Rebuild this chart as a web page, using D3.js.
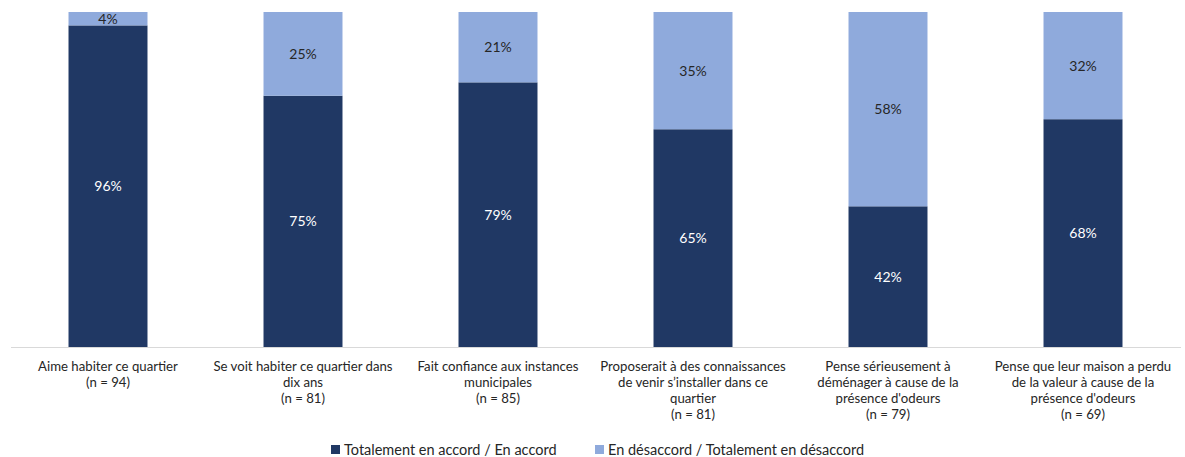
<!DOCTYPE html>
<html>
<head>
<meta charset="utf-8">
<script src="https://cdn.jsdelivr.net/npm/d3@7"></script>
<style>
  html, body { margin: 0; padding: 0; background: #fff; }
  svg { display: block; font-family: Lato, "Open Sans", sans-serif; }
</style>
</head>
<body>
<svg id="chart" width="1185" height="457"></svg>
<script>
// Category labels (line breaks as drawn under each bar)
const categories = [
  "Aime habiter ce quartier\n(n = 94)",
  "Se voit habiter ce quartier dans\ndix ans\n(n = 81)",
  "Fait confiance aux instances\nmunicipales\n(n = 85)",
  "Proposerait à des connaissances\nde venir s’installer dans ce\nquartier\n(n = 81)",
  "Pense sérieusement à\ndéménager à cause de la\nprésence d'odeurs\n(n = 79)",
  "Pense que leur maison a perdu\nde la valeur à cause de la\nprésence d'odeurs\n(n = 69)"
];
const agree = [96, 75, 79, 65, 42, 68];
const disagree = [4, 25, 21, 35, 58, 32];
const seriesNames = ["Totalement en accord / En accord", "En désaccord / Totalement en désaccord"];
const colors = ["#203864", "#8FAADC"];

const svg = d3.select("#chart");
const plot = { left: 10.5, right: 1180.5, top: 12, bottom: 347 };

const x = d3.scaleBand().domain(categories).range([plot.left, plot.right]).paddingInner(0.595).paddingOuter(0.2975);
const y = d3.scaleLinear().domain([0, 100]).range([plot.bottom, plot.top]);

const rows = categories.map((c, i) => ({ cat: c, agree: agree[i], disagree: disagree[i] }));
const stack = d3.stack().keys(["agree", "disagree"])(rows);

const g = svg.append("g");
stack.forEach((layer, li) => {
  g.append("g").selectAll("rect").data(layer).join("rect")
    .attr("x", d => x(d.data.cat))
    .attr("width", x.bandwidth())
    .attr("y", d => y(d[1]))
    .attr("height", d => y(d[0]) - y(d[1]))
    .attr("fill", colors[li]);
  g.append("g").selectAll("text").data(layer).join("text")
    .attr("x", d => x(d.data.cat) + x.bandwidth() / 2)
    .attr("y", d => (y(d[0]) + y(d[1])) / 2)
    .attr("dy", "0.35em")
    .attr("text-anchor", "middle")
    .attr("font-size", 14)
    .attr("fill", li === 0 ? "#ffffff" : "#262626")
    .text(d => (d[1] - d[0]) + "%");
});

// Baseline axis
const axis = svg.append("g").attr("transform", `translate(0,${plot.bottom})`)
  .call(d3.axisBottom(x).tickSize(0).tickFormat(""));
axis.select(".domain").attr("stroke", "#d9d9d9").attr("stroke-width", 1);

// Category labels
const lab = svg.append("g");
categories.forEach(c => {
  const t = lab.append("text")
    .attr("x", x(c) + x.bandwidth() / 2)
    .attr("y", 371)
    .attr("text-anchor", "middle")
    .attr("font-size", 13.2)
    .attr("fill", "#262626");
  c.split("\n").forEach((line, k) => {
    t.append("tspan").attr("x", x(c) + x.bandwidth() / 2).attr("dy", k === 0 ? 0 : 16).text(line);
  });
});

// Legend
const legend = svg.append("g");
const legendX = [331, 595];
seriesNames.forEach((name, i) => {
  legend.append("rect").attr("x", legendX[i]).attr("y", 445).attr("width", 9).attr("height", 9).attr("fill", colors[i]);
  legend.append("text").attr("x", legendX[i] + 13).attr("y", 449.5).attr("dy", "0.35em")
    .attr("font-size", 14.5).attr("fill", "#262626").text(name);
});
</script>
</body>
</html>
